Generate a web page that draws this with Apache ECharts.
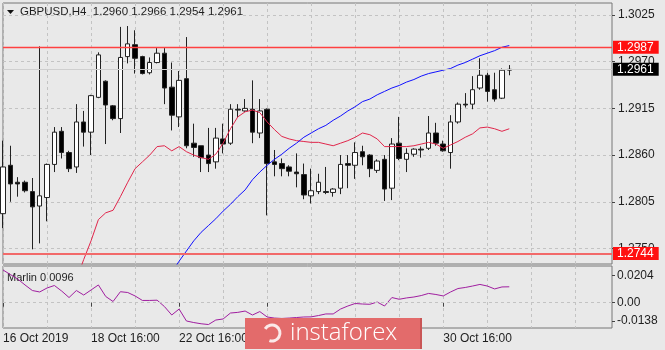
<!DOCTYPE html>
<html>
<head>
<meta charset="utf-8">
<script src="https://cdn.jsdelivr.net/npm/echarts@6/dist/echarts.min.js"></script>
<style>
html,body{margin:0;padding:0;background:#e9e9e9;}
#chart{width:665px;height:350px;}
</style>
</head>
<body>
<div id="chart"></div>
<script>
// ---- data (GBPUSD, H4) ----
const opens = [1.2791,1.2848,1.2828,1.2828,1.2817,1.2800,1.2810,1.2849,1.2888,1.2863,
1.2846,1.2899,1.2887,1.2928,1.2947,1.2918,1.2903,1.2976,1.2990,1.2976,
1.2957,1.2969,1.2980,1.2940,1.2905,1.2950,1.2874,1.2871,1.2860,1.2852,
1.2879,1.2874,1.2914,1.2912,1.2914,1.2886,1.2914,1.2852,1.2850,1.2846,
1.2840,1.2837,1.2812,1.2817,1.2817,1.2816,1.2821,1.2850,1.2848,1.2864,
1.2860,1.2842,1.2855,1.2821,1.2874,1.2855,1.2861,1.2867,1.2868,1.2886,
1.2873,1.2863,1.2899,1.2920,1.2920,1.2939,1.2954,1.2937,1.2927,1.2960];
const closes = [1.2846,1.2826,1.2826,1.2818,1.2799,1.2812,1.2849,1.2887,1.2863,1.2844,
1.2899,1.2887,1.2930,1.2978,1.2919,1.2903,1.2975,1.2991,1.2974,1.2956,
1.2969,1.2980,1.2939,1.2907,1.2948,1.2871,1.2869,1.2857,1.2850,1.2880,
1.2873,1.2914,1.2913,1.2915,1.2887,1.2912,1.2850,1.2849,1.2844,1.2841,
1.2838,1.2813,1.2818,1.2828,1.2816,1.2820,1.2849,1.2848,1.2863,1.2858,
1.2844,1.2853,1.2820,1.2873,1.2856,1.2862,1.2867,1.2866,1.2886,1.2874,
1.2865,1.2899,1.2920,1.2919,1.2937,1.2954,1.2935,1.2926,1.2960,1.2961];
const highs = [1.2877,1.2871,1.2834,1.2830,1.2833,1.2988,1.2850,1.2893,1.2893,1.2865,
1.2920,1.2912,1.2931,1.2981,1.2948,1.2919,1.3011,1.3012,1.3007,1.2977,
1.2975,1.2986,1.2986,1.2969,1.2959,1.2999,1.2897,1.2871,1.2892,1.2892,
1.2897,1.2920,1.2920,1.2926,1.2948,1.2926,1.2915,1.2866,1.2856,1.2848,
1.2862,1.2850,1.2844,1.2838,1.2846,1.2821,1.2860,1.2860,1.2875,1.2871,
1.2861,1.2855,1.2860,1.2880,1.2905,1.2868,1.2868,1.2870,1.2906,1.2898,
1.2877,1.2907,1.2922,1.2933,1.2953,1.2974,1.2957,1.2957,1.2962,1.2966];
const lows = [1.2774,1.2805,1.2811,1.2816,1.2749,1.2756,1.2782,1.2840,1.2856,1.2840,
1.2839,1.2870,1.2860,1.2927,1.2873,1.2901,1.2886,1.2968,1.2956,1.2955,
1.2955,1.2968,1.2920,1.2889,1.2893,1.2868,1.2858,1.2840,1.2840,1.2844,
1.2862,1.2872,1.2905,1.2911,1.2874,1.2880,1.2789,1.2835,1.2835,1.2835,
1.2822,1.2808,1.2803,1.2814,1.2814,1.2811,1.2814,1.2821,1.2832,1.2848,
1.2834,1.2839,1.2806,1.2807,1.2854,1.2840,1.2858,1.2857,1.2866,1.2871,
1.2864,1.2844,1.2897,1.2916,1.2914,1.2937,1.2923,1.2923,1.2926,1.2954];
// red moving average (starts at bar 10)
const maFast = [null,null,null,null,null,null,null,null,null,null,
1.2713,1.2737,1.2759,1.2784,1.2792,1.2795,1.2811,1.2828,1.2844,1.2852,
1.2860,1.2870,1.2871,1.2865,1.2870,1.2864,1.2860,1.2857,1.2855,1.2861,
1.2874,1.2891,1.2905,1.2911,1.2913,1.2910,1.2899,1.2890,1.2882,1.2879,
1.2877,1.2876,1.2875,1.2875,1.2873,1.2871,1.2874,1.2877,1.2881,1.2886,
1.2884,1.2879,1.2870,1.2870,1.2870,1.2870,1.2871,1.2873,1.2875,1.2873,
1.2868,1.2872,1.2876,1.2881,1.2885,1.2892,1.2893,1.2891,1.2888,1.2891];
// blue moving average (starts at bar 23)
const maSlow = [null,null,null,null,null,null,null,null,null,null,
null,null,null,null,null,null,null,null,null,null,null,null,null,
1.2722,1.2735,1.2747,1.2759,1.2769,1.2777,1.2785,1.2794,1.2802,1.2811,
1.2819,1.2831,1.2840,1.2848,1.2855,1.2861,1.2868,1.2874,1.2881,1.2886,
1.2891,1.2895,1.2901,1.2906,1.2912,1.2917,1.2923,1.2926,1.2931,1.2935,
1.2939,1.2942,1.2946,1.2949,1.2953,1.2956,1.2958,1.2960,1.2962,1.2966,
1.2969,1.2973,1.2977,1.2980,1.2983,1.2987,1.2989];
const marlin = [0.0247,0.0213,0.0179,0.0134,0.0092,0.0081,0.0111,0.0130,0.0088,0.0039,
0.0092,0.0058,0.0096,0.0134,0.0047,0.0009,0.0083,0.0077,0.0051,0.0017,
0.0017,0.0019,-0.0029,-0.0093,-0.0048,-0.0138,-0.0150,-0.0159,-0.0165,-0.0131,
-0.0123,-0.0078,-0.0073,-0.0063,-0.0093,-0.0067,-0.0108,-0.0116,-0.0119,-0.0116,
-0.0112,-0.0108,-0.0107,-0.0097,-0.0085,-0.0085,-0.0048,-0.0025,-0.0006,-0.0010,
-0.0012,0.0005,-0.0025,0.0039,0.0026,0.0036,0.0043,0.0054,0.0070,0.0062,
0.0051,0.0081,0.0107,0.0115,0.0126,0.0138,0.0126,0.0104,0.0119,0.0120];

const priceTicks = [1.2750, 1.2805, 1.2860, 1.2915, 1.2970, 1.3025];
const marlinTicks = [-0.0138, 0, 0.0204];
const timeTickLabels = {0:'16 Oct 2019', 12:'18 Oct 16:00', 24:'22 Oct 16:00', 36:'24 Oct 16:00', 60:'30 Oct 16:00'};
const levelLines = [1.2987, 1.2744];
const bidPrice = 1.2961;
const headerText = 'GBPUSD,H4  1.2960 1.2966 1.2954 1.2961';
const indicatorText = 'Marlin 0.0096';

// ---- bar times (H4, weekdays), incl. empty future slots on the right ----
const TOTAL_SLOTS = 84;
const months = ['Jan','Feb','Mar','Apr','May','Jun','Jul','Aug','Sep','Oct','Nov','Dec'];
const categories = [];
(function(){
  let t = Date.UTC(2019, 9, 16, 16);
  while (categories.length < TOTAL_SLOTS) {
    const d = new Date(t);
    const wd = d.getUTCDay();
    if (wd !== 0 && wd !== 6) {
      categories.push(d.getUTCDate() + ' ' + months[d.getUTCMonth()] + ' ' + String(d.getUTCHours()).padStart(2,'0') + ':00');
    }
    t += 4 * 3600 * 1000;
  }
})();

const FONT = '"Liberation Sans", Arial, sans-serif';
const gridLine = {color:'#c3c3c3', type:[3,3], width:1};
const labelShown = (i) => timeTickLabels[i] !== undefined;

const chart = echarts.init(document.getElementById('chart'), null, {renderer:'canvas'});
const candleData = opens.map((o, i) => [o, closes[i], lows[i], highs[i]]);

function priceBox(bg){
  return {show:true, position:'end', distance:1, formatter:(p)=>Number(p.value).toFixed(4),
    backgroundColor:bg, color:'#fff', padding:[1,5,0,4], fontSize:12, lineHeight:12, fontFamily:FONT};
}

chart.setOption({
  animation:false,
  backgroundColor:'#e9e9e9',
  grid:[
    {left:3, top:3, width:609, height:261, show:true, borderColor:'#777', borderWidth:1, backgroundColor:'transparent'},
    {left:3, top:266, width:609, height:62, show:true, borderColor:'#777', borderWidth:1, backgroundColor:'transparent'}
  ],
  xAxis:[
    {type:'category', gridIndex:0, data:categories, boundaryGap:false,
      axisLine:{show:false}, axisTick:{show:false}, axisLabel:{show:false},
      splitLine:{show:true, interval:5, lineStyle:gridLine}},
    {type:'category', gridIndex:1, data:categories, boundaryGap:false,
      axisLine:{show:false},
      axisTick:{show:true, interval:(i)=>labelShown(i), length:4, lineStyle:{color:'#444'}},
      axisLabel:{show:true, interval:(i)=>labelShown(i), formatter:(v,i)=>timeTickLabels[i]||'',
        align:'left', margin:5, fontSize:12, color:'#1e1e1e', fontFamily:FONT},
      splitLine:{show:true, interval:5, lineStyle:gridLine}}
  ],
  yAxis:[
    {type:'value', gridIndex:0, position:'right', min:1.273171, max:1.303913, scale:true,
      axisLine:{show:false},
      axisTick:{show:true, customValues:priceTicks, length:3, lineStyle:{color:'#444'}},
      axisLabel:{show:true, customValues:priceTicks, formatter:(v)=>v.toFixed(4), margin:6,
        fontSize:12, color:'#1e1e1e', fontFamily:FONT},
      splitLine:{show:true, lineStyle:gridLine}},
    {type:'value', gridIndex:1, position:'right', min:-0.01911, max:0.02772,
      axisLine:{show:false},
      axisTick:{show:true, customValues:marlinTicks, length:3, lineStyle:{color:'#444'}},
      axisLabel:{show:true, customValues:marlinTicks, formatter:(v)=> Math.abs(v) < 1e-9 ? '0.00' : v.toFixed(4), margin:5,
        fontSize:12, color:'#1e1e1e', fontFamily:FONT},
      splitLine:{show:false}}
  ],
  series:[
    {type:'line', xAxisIndex:0, yAxisIndex:0, data:[], symbol:'none', z:1,
      markLine:{silent:true, symbol:'none', animation:false, precision:4,
        data:[
          {yAxis:bidPrice, lineStyle:{color:'#cfcfcf', type:'solid', width:1}, label:priceBox('#000000')},
          {yAxis:levelLines[0], lineStyle:{color:'#ff4040', type:'solid', width:1.3}, label:priceBox('#ff1010')},
          {yAxis:levelLines[1], lineStyle:{color:'#f26a6a', type:'solid', width:2}, label:priceBox('#ff1010')}
        ]}
    },
    {type:'candlestick', xAxisIndex:0, yAxisIndex:0, data:candleData, barWidth:5, z:2,
      itemStyle:{color:'#ffffff', color0:'#000000', borderColor:'#222', borderColor0:'#222', borderColorDoji:'#222', borderWidth:1}
    },
    {type:'line', xAxisIndex:0, yAxisIndex:0, data:maFast, showSymbol:false, symbol:'none',
      lineStyle:{color:'#e0264b', width:1}, z:3},
    {type:'line', xAxisIndex:0, yAxisIndex:0, data:maSlow, showSymbol:false, symbol:'none',
      lineStyle:{color:'#1010ff', width:1}, z:3},
    {type:'line', xAxisIndex:1, yAxisIndex:1, data:marlin, showSymbol:false, symbol:'none',
      lineStyle:{color:'#a01ea0', width:1},
      markLine:{silent:true, symbol:'none', label:{show:false},
        data:[{yAxis:0, lineStyle:{color:'#c3c3c3', type:[3,3], width:1}}]}}
  ],
  graphic:[
    {type:'polygon', shape:{points:[[7,10],[14,10],[10.5,14]]}, style:{fill:'#111'}},
    {type:'text', x:20, y:12, style:{text:headerText, font:'11.5px ' + FONT, fill:'#1e1e1e', verticalAlign:'middle'}},
    {type:'text', x:7, y:278, style:{text:indicatorText, font:'11px ' + FONT, fill:'#1e1e1e', verticalAlign:'middle'}},
    {type:'rect', z:100, zlevel:1, shape:{x:245, y:318, width:177, height:31}, style:{fill:'#e36b6b'}},
    {type:'rect', z:101, zlevel:1, shape:{x:420, y:318, width:2, height:31}, style:{fill:'#c95656'}},
    {type:'arc', z:101, zlevel:1, shape:{cx:272, cy:333, r:8, startAngle:-2.6, endAngle:1.9}, style:{stroke:'rgba(255,255,255,0.85)', lineWidth:3, fill:null}},
    {type:'text', z:101, zlevel:1, x:290, y:333, style:{text:'instaforex', font:'300 24px "Open Sans", sans-serif', fill:'#ffffff', verticalAlign:'middle'}}
  ]
});
</script>
</body>
</html>
